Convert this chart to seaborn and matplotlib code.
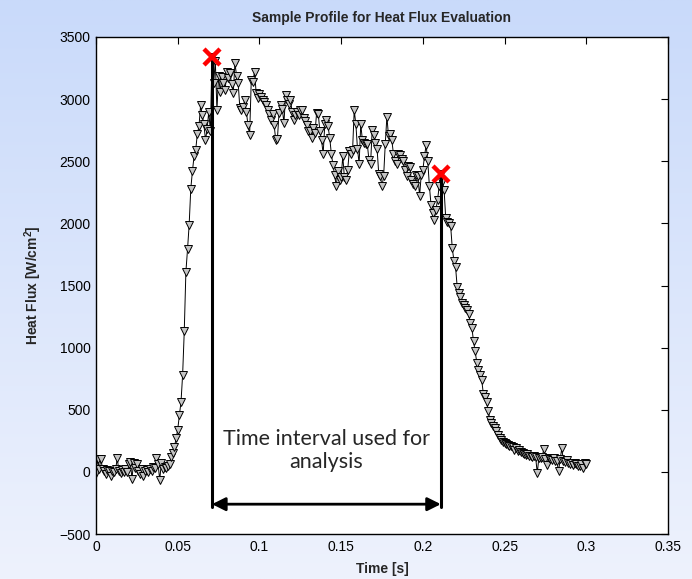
import numpy as np
import pandas as pd
import matplotlib
matplotlib.use("Agg")
import matplotlib.pyplot as plt
import seaborn as sns

# ---------------- data ----------------
time_ms_step = 0.001
heat_flux = [
    -10, 100, 25, 105, 20, 10, -15, 15, 5, -35,
    10, 0, 20, 110, 5, -10, 15, 0, 25, -5,
    60, 80, -55, 75, 30, 60, 10, -20, 20, -35,
    5, 15, 0, 25, 10, 40, 30, 110, 60, -65,
    75, 20, 40, 30, 45, 60, 120, 150, 200, 270,
    340, 455, 560, 780, 1130, 1610, 1790, 1990, 2280, 2420,
    2540, 2590, 2720, 2780, 2950, 2870, 2800, 2670, 2760, 2900,
    2740, 3340, 3130, 3310, 2910, 3190, 3060, 3180, 3130, 3070,
    3220, 3170, 3210, 3120, 3050, 3290, 3190, 3130, 2930, 2910,
    2940, 2990, 2900, 2790, 2710, 3150, 3140, 3220, 3050, 3010,
    3040, 3020, 2990, 2980, 2950, 2910, 2880, 2830, 2880, 2790,
    2670, 2680, 2890, 2950, 2920, 2810, 3030, 2990, 2960, 2990,
    2900, 2830, 2870, 2900, 2870, 2910, 2910, 2850, 2820, 2790,
    2740, 2740, 2690, 2770, 2730, 2890, 2880, 2740, 2670, 2560,
    2800, 2830, 2780, 2690, 2560, 2470, 2390, 2300, 2420, 2350,
    2370, 2540, 2370, 2350, 2430, 2580, 2560, 2590, 2910, 2800,
    2600, 2480, 2800, 2670, 2650, 2640, 2640, 2510, 2480, 2750,
    2710, 2650, 2600, 2400, 2380, 2300, 2380, 2640, 2860, 2700,
    2720, 2670, 2560, 2500, 2480, 2560, 2550, 2520, 2500, 2430,
    2380, 2460, 2450, 2350, 2320, 2300, 2390, 2380, 2220, 2390,
    2430, 2540, 2630, 2500, 2300, 2150, 2080, 2030, 2110, 2190,
    2300, 2400, 2330, 2270, 2040, 2010, 2000, 1980, 1800, 1700,
    1650, 1490, 1440, 1410, 1360, 1340, 1320, 1300, 1270, 1200,
    1160, 1050, 970, 880, 820, 780, 740, 630, 600, 560,
    490, 420, 390, 370, 350, 330, 300, 270, 260, 240,
    230, 225, 215, 210, 205, 200, 180, 190, 170, 175,
    160, 150, 140, 135, 140, 130, 125, 120, 125, 120,
    -10, 115, 110, 120, 185, 100, 55, 110, 100, 95,
    110, 90, 85, 5, 100, 190, 90, 80, 95, 70,
    60, 75, 55, 70, 60, 50, 45, 60, 30, 70,
    65,
]
time_s = np.round(np.arange(len(heat_flux)) * time_ms_step, 3)

# analysis interval markers (start / end of interval)
interval_t = [0.071, 0.211]
interval_q = [3340, 2400]
arrow_level = -260

x_ticks = [0, 0.05, 0.1, 0.15, 0.2, 0.25, 0.3, 0.35]
x_ticklabels = ["0", "0.05", "0.1", "0.15", "0.2", "0.25", "0.3", "0.35"]
y_ticks = [-500, 0, 500, 1000, 1500, 2000, 2500, 3000, 3500]

title = "Sample Profile for Heat Flux Evaluation"
xlabel = "Time [s]"
ylabel = "Heat Flux [W/cm$^\\mathbf{2}$]"
note = "Time interval used for\nanalysis"

df = pd.DataFrame({"t": time_s, "q": heat_flux})

# ---------------- figure ----------------
sns.set_style("white")
plt.rcParams["font.family"] = ["Liberation Sans", "DejaVu Sans"]
plt.rcParams["mathtext.fontset"] = "custom"
plt.rcParams["mathtext.bf"] = "Liberation Sans:bold"
plt.rcParams["mathtext.rm"] = "Liberation Sans"

fig = plt.figure(figsize=(6.92, 5.79), dpi=100)

# gradient background
bg = fig.add_axes([0, 0, 1, 1], zorder=-10)
top = np.array([201, 218, 250]) / 255.0
bot = np.array([238, 242, 253]) / 255.0
g = np.linspace(0, 1, 256)[:, None]
grad = top[None, None, :] * (1 - g[:, :, None]) + bot[None, None, :] * g[:, :, None]
grad = np.repeat(grad, 4, axis=1)
bg.imshow(grad, aspect="auto", extent=[0, 1, 0, 1])
bg.set_axis_off()

ax = fig.add_axes([96 / 692, 1 - 534 / 579, (668 - 96) / 692, (534 - 37) / 579])
ax.set_facecolor("white")

sns.lineplot(data=df, x="t", y="q", ax=ax, color="black", linewidth=0.7,
             marker="v", markersize=5.2, markerfacecolor="#c4c4c4",
             markeredgecolor="black", markeredgewidth=0.7, sort=False)

# vertical lines and arrow
for t0, q0 in zip(interval_t, interval_q):
    ax.plot([t0, t0], [arrow_level - 20, q0], color="black", lw=2.2, zorder=4)
ax.annotate("", xy=(interval_t[0], arrow_level), xytext=(interval_t[1], arrow_level),
            arrowprops=dict(arrowstyle="<|-|>", color="black", lw=2,
                            mutation_scale=20, shrinkA=0, shrinkB=0), zorder=5)
ax.plot(interval_t, interval_q, linestyle="none", marker="x", color="red",
        markersize=12, markeredgewidth=3.2, zorder=6)

ax.text(sum(interval_t) / 2, 175, note, ha="center", va="center",
        fontsize=15.5, family=["Lato", "DejaVu Sans"], linespacing=1.2)

ax.set_xlim(0, 0.35)
ax.set_ylim(-500, 3500)
ax.set_xticks(x_ticks)
ax.set_xticklabels(x_ticklabels)
ax.set_yticks(y_ticks)
ax.tick_params(direction="in", length=5, width=0.8, top=True, right=True,
               labelsize=10, colors="black", pad=4)
for s in ax.spines.values():
    s.set_visible(True)
    s.set_color("black")
    s.set_linewidth(1.0)

ax.set_title(title, fontsize=10, fontweight="bold", pad=11)
ax.set_xlabel(xlabel, fontsize=10, fontweight="bold", labelpad=6)
ax.set_ylabel(ylabel, fontsize=10, fontweight="bold", labelpad=11)

fig.savefig("out.png", dpi=100)
